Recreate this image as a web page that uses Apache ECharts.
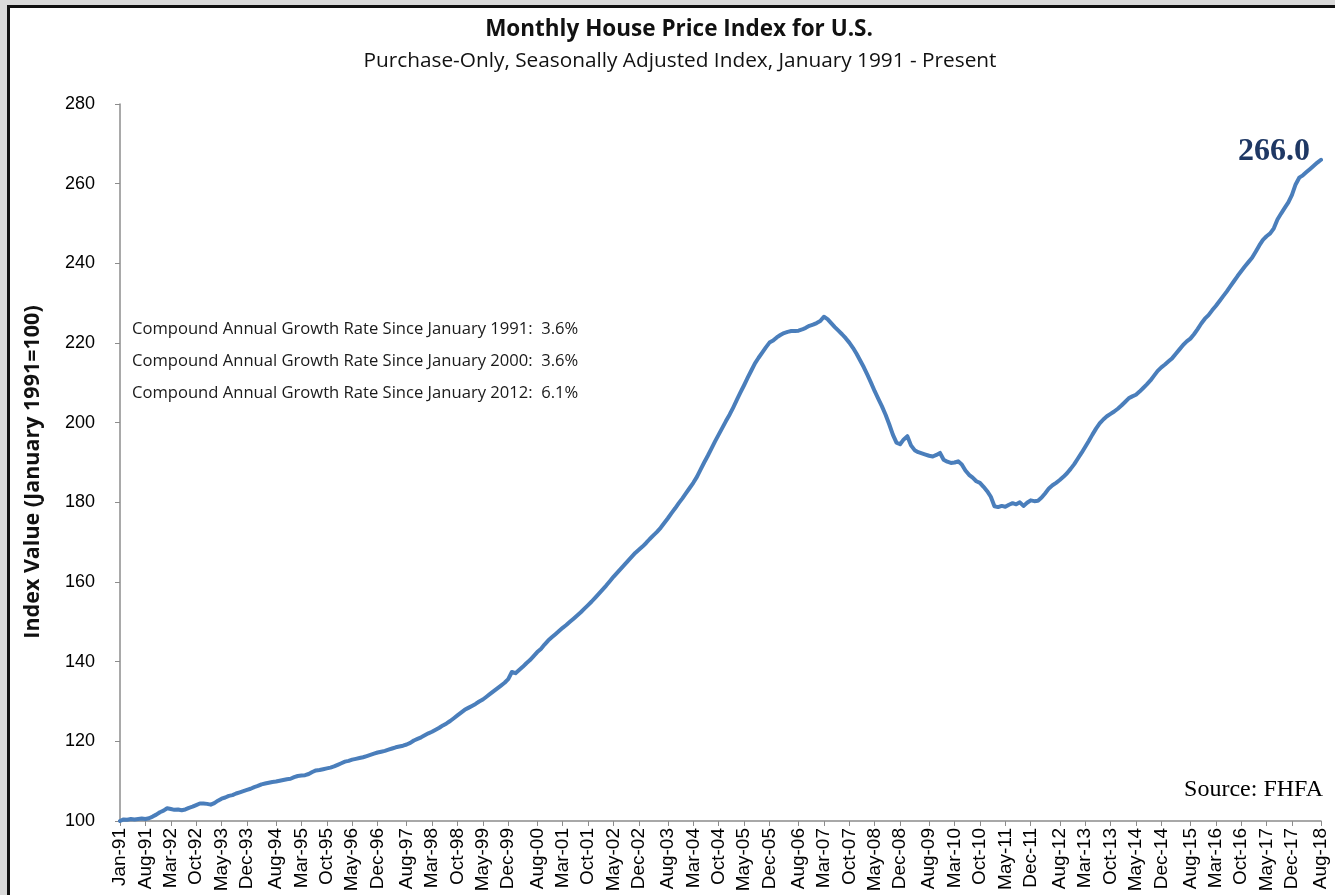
<!DOCTYPE html>
<html><head><meta charset="utf-8">
<script src="https://cdn.jsdelivr.net/npm/echarts@6/dist/echarts.min.js"></script>
<style>
html,body{margin:0;padding:0;width:1335px;height:895px;overflow:hidden;background:#d9d9d9;}
#frame{position:absolute;left:7px;top:5px;width:1340px;height:900px;background:#fff;border-left:3px solid #111;border-top:3px solid #111;}
#chart{position:absolute;left:0;top:0;width:1335px;height:895px;}
</style></head><body><div id="frame"></div><div id="chart"></div>
<script>
// ---- Data ----
const monthNames = ["Jan","Feb","Mar","Apr","May","Jun","Jul","Aug","Sep","Oct","Nov","Dec"];
const startYear = 1991;
const monthCount = 332; // Jan-91 .. Aug-18

const values1991_1995 = [
  100.0,100.4,100.3,100.5,100.4,100.5,100.6,100.5,100.7,101.1,101.6,102.2,
  102.6,103.2,103.0,102.8,102.9,102.7,102.9,103.3,103.6,104.0,104.4,104.4,
  104.3,104.1,104.5,105.1,105.6,105.9,106.3,106.5,106.9,107.2,107.5,107.8,
  108.1,108.5,108.8,109.2,109.4,109.6,109.8,109.9,110.1,110.3,110.5,110.6,
  111.0,111.3,111.4,111.5,111.8,112.3,112.7,112.8,113.0,113.2,113.4,113.7
];
const values1996_2000 = [
  114.1,114.5,114.9,115.1,115.4,115.6,115.8,116.0,116.3,116.6,116.9,117.2,
  117.4,117.6,117.9,118.2,118.5,118.7,118.9,119.2,119.6,120.2,120.6,121.0,
  121.5,122.0,122.4,122.9,123.4,124.0,124.5,125.1,125.8,126.5,127.2,127.9,
  128.4,128.9,129.4,130.0,130.5,131.2,131.9,132.6,133.3,134.0,134.7,135.6,
  137.4,137.1,137.9,138.7,139.6,140.4,141.4,142.4,143.2,144.3,145.3,146.1
];
const values2001_2005 = [
  146.9,147.7,148.5,149.2,150.0,150.8,151.6,152.4,153.3,154.2,155.1,156.1,
  157.1,158.1,159.1,160.2,161.3,162.3,163.3,164.3,165.3,166.3,167.3,168.1,
  168.9,169.8,170.8,171.7,172.6,173.6,174.8,176.0,177.3,178.5,179.8,181.0,
  182.3,183.6,184.9,186.4,188.2,190.0,191.7,193.5,195.3,197.0,198.7,200.4,
  202.0,203.8,205.7,207.6,209.4,211.3,213.1,214.9,216.3,217.6,218.9,220.1
];
const values2006_2010 = [
  220.6,221.4,222.0,222.5,222.8,223.0,223.0,223.1,223.4,223.8,224.3,224.6,
  225.0,225.5,226.6,226.0,225.0,224.0,223.1,222.2,221.2,220.1,218.8,217.3,
  215.6,213.9,212.0,210.0,207.9,206.0,204.1,202.0,199.6,197.0,195.0,194.6,
  195.8,196.6,194.3,193.1,192.6,192.3,192.0,191.7,191.5,191.9,192.4,190.7,
  190.2,189.9,190.0,190.3,189.5,188.0,186.9,186.2,185.3,184.9,183.9,182.8
];
const values2011_2015 = [
  181.4,179.0,178.8,179.1,178.9,179.4,179.8,179.5,180.0,179.1,179.9,180.5,
  180.3,180.4,181.2,182.3,183.5,184.3,184.9,185.6,186.4,187.3,188.4,189.6,
  191.0,192.4,193.9,195.4,197.0,198.5,199.8,200.8,201.6,202.2,202.8,203.5,
  204.3,205.2,206.1,206.6,207.0,207.8,208.7,209.6,210.6,211.8,213.0,213.9,
  214.6,215.4,216.2,217.3,218.4,219.5,220.4,221.1,222.2,223.5,224.9,226.1
];
const values2016_2018 = [
  227.0,228.2,229.3,230.5,231.7,232.9,234.2,235.5,236.8,238.0,239.2,240.3,
  241.4,242.9,244.5,245.9,246.8,247.5,248.8,251.0,252.5,253.9,255.3,257.2,
  259.8,261.5,262.1,262.9,263.7,264.5,265.3,266.0
];

const tickLabels = ["Jan-91","Aug-91","Mar-92","Oct-92","May-93","Dec-93","Aug-94","Mar-95","Oct-95",
  "May-96","Dec-96","Aug-97","Mar-98","Oct-98","May-99","Dec-99","Aug-00","Mar-01","Oct-01","May-02",
  "Dec-02","Aug-03","Mar-04","Oct-04","May-05","Dec-05","Aug-06","Mar-07","Oct-07","May-08","Dec-08",
  "Aug-09","Mar-10","Oct-10","May-11","Dec-11","Aug-12","Mar-13","Oct-13","May-14","Dec-14","Aug-15",
  "Mar-16","Oct-16","May-17","Dec-17","Aug-18"];

const yTicks = {min: 100, max: 280, step: 20};

const titleText = "Monthly House Price Index for U.S.";
const subtitleText = "Purchase-Only, Seasonally Adjusted Index, January 1991 - Present";
const yAxisTitle = "Index Value (January 1991=100)";
const cagrLines = [
  "Compound Annual Growth Rate Since January 1991:  3.6%",
  "Compound Annual Growth Rate Since January 2000:  3.6%",
  "Compound Annual Growth Rate Since January 2012:  6.1%"
];
const sourceText = "Source: FHFA";

// ---- Build ----
const categories = [];
for (let i = 0; i < monthCount; i++) {
  const y = startYear + Math.floor(i / 12);
  categories.push(monthNames[i % 12] + "-" + String(y % 100).padStart(2, "0"));
}
const hpi = [].concat(values1991_1995, values1996_2000, values2001_2005,
  values2006_2010, values2011_2015, values2016_2018);

const tickSet = new Set(tickLabels);
let peakIdx = 0;
hpi.forEach((v, i) => { if (v > hpi[peakIdx]) peakIdx = i; });
const lastIdx = hpi.length - 1;

const chart = echarts.init(document.getElementById('chart'), null, {renderer: 'canvas'});
const serif = "'Liberation Serif', 'Times New Roman', serif";
const sans = "'Open Sans', Lato, 'Noto Sans', sans-serif";
const arial = "'Liberation Sans', Arial, sans-serif";

chart.setOption({
  backgroundColor: 'transparent',
  animation: false,
  title: [
    {text: titleText, left: 674, top: 13, textAlign: 'center',
     textStyle: {fontFamily: sans, fontSize: 22.5, fontWeight: 'bold', color: '#111'}},
    {text: subtitleText, left: 675, top: 46, textAlign: 'center',
     textStyle: {fontFamily: sans, fontSize: 20.8, fontWeight: 'normal', color: '#111'}}
  ],
  grid: {left: 120, right: 14, top: 104, bottom: 74},
  xAxis: {
    type: 'category',
    data: categories,
    boundaryGap: false,
    axisLine: {lineStyle: {color: '#8c8c8c', width: 1.5}},
    axisTick: {show: true, length: 5, interval: (i, v) => tickSet.has(v), lineStyle: {color: '#8c8c8c'}},
    axisLabel: {interval: (i, v) => tickSet.has(v), rotate: 90, margin: 7,
      fontFamily: arial, fontSize: 19, color: '#000'},
    splitLine: {show: false}
  },
  yAxis: {
    type: 'value',
    min: yTicks.min, max: yTicks.max, interval: yTicks.step,
    axisLine: {show: true, lineStyle: {color: '#8c8c8c', width: 1.5}},
    axisTick: {show: true, length: 5, lineStyle: {color: '#8c8c8c'}},
    axisLabel: {fontFamily: arial, fontSize: 18, color: '#000', margin: 25},
    splitLine: {show: false}
  },
  series: [{
    type: 'line',
    data: hpi,
    showSymbol: false,
    symbol: 'none',
    lineStyle: {color: '#4a7ebb', width: 4, join: 'round', cap: 'round'},
    markLine: {
      silent: true, symbol: ['none', 'none'],
      lineStyle: {color: '#cccccc', width: 1.5, type: 'solid'},
      label: {show: false},
      data: [[{coord: [peakIdx, hpi[peakIdx]]}, {coord: [lastIdx, hpi[peakIdx]]}]]
    },
    markPoint: {
      symbolSize: 0,
      data: [{coord: [lastIdx, hpi[lastIdx]], value: hpi[lastIdx]}],
      label: {show: true, position: 'left', distance: 11, offset: [0, -8],
        formatter: p => Number(p.value).toFixed(1),
        fontFamily: serif, fontSize: 32, fontWeight: 'bold', color: '#1f3864'}
    },
    z: 3
  }],
  graphic: [
    {type: 'text', x: 33, y: 472, rotation: Math.PI / 2,
      style: {text: yAxisTitle, font: "bold 21.5px 'Open Sans', Lato, sans-serif", fill: '#111',
        align: 'center', verticalAlign: 'middle'}},
    ...cagrLines.map((t, k) => ({type: 'text', left: 132, top: 321 + k * 32,
      style: {text: t, font: "16.6px 'Open Sans', Lato, sans-serif", fill: '#1a1a1a'}})),
    {type: 'text', right: 12, top: 778,
      style: {text: sourceText, font: "24px 'Liberation Serif', serif", fill: '#000'}}
  ]
});
</script></body></html>
